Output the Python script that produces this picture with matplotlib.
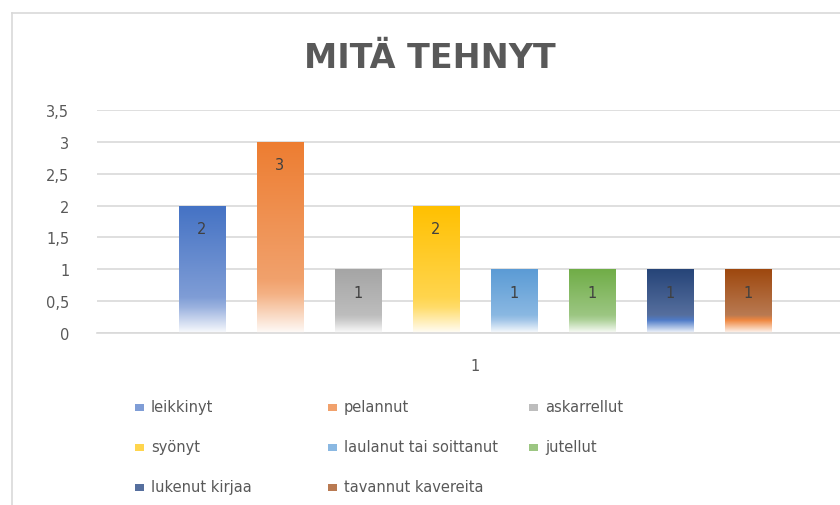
import numpy as np
import matplotlib
matplotlib.use("Agg")
import matplotlib.pyplot as plt
import matplotlib.colors as mcolors
from matplotlib.patches import Rectangle
from matplotlib.lines import Line2D

# data
categories = ["leikkinyt", "pelannut", "askarrellut", "syönyt",
              "laulanut tai soittanut", "jutellut", "lukenut kirjaa", "tavannut kavereita"]
values = [2, 3, 1, 2, 1, 1, 1, 1]
group_label = "1"
y_ticks = [0, 0.5, 1, 1.5, 2, 2.5, 3, 3.5]
y_tick_labels = ["0", "0,5", "1", "1,5", "2", "2,5", "3", "3,5"]

# gradient colours: top of bar, ~72% down, ~80% down
top_colors = ["#4472C4", "#ED7D31", "#A5A5A5", "#FFC000", "#5B9BD5", "#70AD47", "#264478", "#9E480E"]
mid_colors = ["#7f9dd6", "#f1a16c", "#bdbdbd", "#ffd54d", "#8ab8e2", "#9cc682", "#566f9e", "#b97a52"]
low_colors = ["#9bb2df", "#f4b285", "#cbcbcb", "#ffdc6a", "#a3c6e8", "#afd29b", "#4f7bc8", "#ef8740"]

text_gray = "#595959"
grid_gray = "#d9d9d9"

plt.rcParams['font.family'] = ['DejaVu Sans']

fig = plt.figure(figsize=(8.4, 5.06), dpi=100)
ax = fig.add_axes([97 / 840, 172 / 506, 743 / 840, 223 / 506])

# chart area border (left and top edges visible)
fig.add_artist(Line2D([12 / 840, 12 / 840], [0, 1 - 14 / 506], transform=fig.transFigure, color=grid_gray, lw=1.2))
fig.add_artist(Line2D([12 / 840, 1], [1 - 14 / 506, 1 - 14 / 506], transform=fig.transFigure, color=grid_gray, lw=1.2))


def gradient_cmap(i):
    white_end = tuple(np.array(mcolors.to_rgb(low_colors[i])) * 0.06 + 0.94)
    return mcolors.LinearSegmentedColormap.from_list(
        "g%d" % i,
        [(0.0, top_colors[i]), (0.72, mid_colors[i]), (0.80, low_colors[i]), (1.0, white_end)])


x = np.arange(len(values))
width = 0.59
grad = np.linspace(0, 1, 256).reshape(-1, 1)

for i, v in enumerate(values):
    rect = Rectangle((x[i] - width / 2, 0), width, v, facecolor="none", edgecolor="none")
    ax.add_patch(rect)
    im = ax.imshow(grad, cmap=gradient_cmap(i), aspect="auto", origin="upper",
                   extent=[x[i] - width / 2, x[i] + width / 2, 0, v], zorder=2)
    im.set_clip_path(rect)
    ax.annotate(str(v), (x[i], v), xytext=(0, -16.5), textcoords="offset points",
                ha="center", va="center", fontsize=10.5, color="#404040", zorder=3)

ax.set_xlim(x[0] - 1.346, x[0] + 8.18)
ax.set_ylim(0, 3.5)
ax.set_yticks(y_ticks)
ax.set_yticklabels(y_tick_labels, fontsize=10.5, color=text_gray)
ax.set_xticks([x.mean()])
ax.set_xticklabels([group_label], fontsize=10.5, color=text_gray)
ax.tick_params(axis="both", length=0)
ax.tick_params(axis="y", pad=20)
ax.tick_params(axis="x", pad=18)
ax.grid(axis="y", color=grid_gray, lw=1.2, zorder=0)
ax.set_axisbelow(True)
for side in ["top", "right", "left"]:
    ax.spines[side].set_visible(False)
ax.spines["bottom"].set_color(grid_gray)
ax.spines["bottom"].set_linewidth(1.2)

fig.text(430 / 840, 1 - 58 / 506, "MITÄ TEHNYT", ha="center", va="center",
         fontsize=24, fontweight="bold", color=text_gray,
         family=["Liberation Sans Narrow", "DejaVu Sans"])

# legend laid out row by row, three columns
col_x = [135, 328, 529]
row_y = [408, 448, 488]
for i, name in enumerate(categories):
    cx = col_x[i % 3]
    cy = row_y[i // 3]
    fig.add_artist(Rectangle((cx / 840, 1 - (cy + 4) / 506), 9 / 840, 7 / 506,
                             transform=fig.transFigure, facecolor=mid_colors[i], edgecolor="none"))
    fig.text((cx + 16) / 840, 1 - cy / 506, name, ha="left", va="center",
             fontsize=10.5, color=text_gray)

fig.savefig("out.png", dpi=100)
